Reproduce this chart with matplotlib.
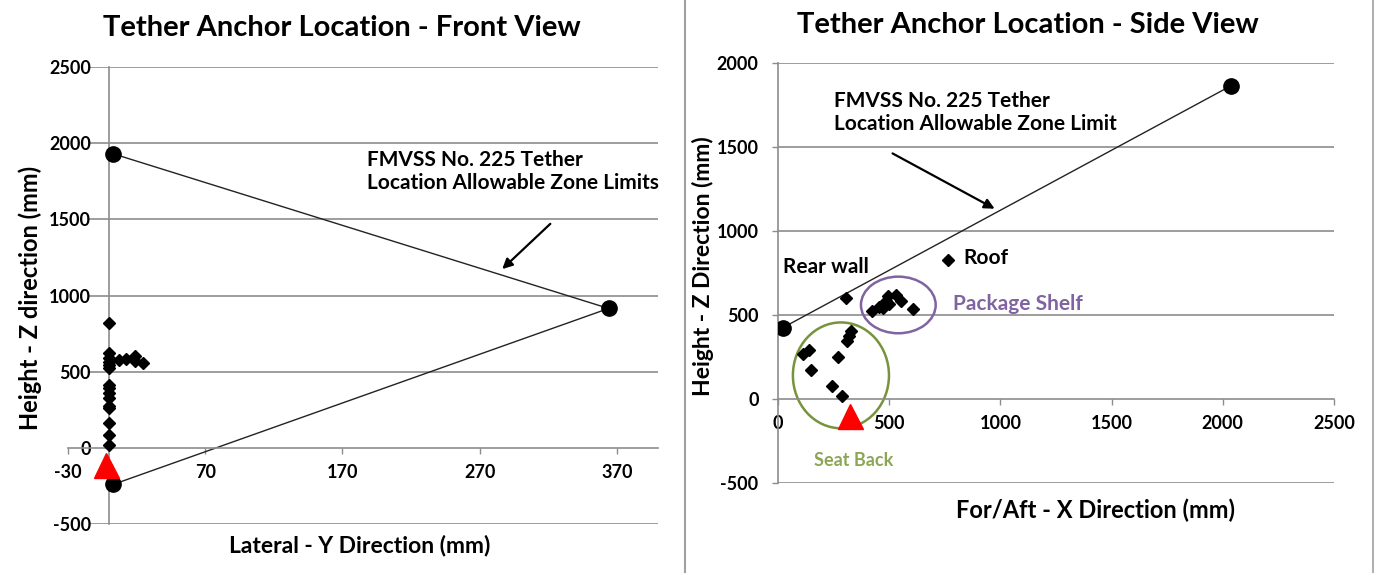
import matplotlib
matplotlib.use("Agg")
import matplotlib.pyplot as plt
from matplotlib.patches import Ellipse
from matplotlib.lines import Line2D

plt.rcParams['font.family'] = ['Lato', 'DejaVu Sans']

# ---------------- Front view data ----------------
front_zone_y = [3, 364, 3]          # lateral (mm)
front_zone_z = [1930, 915, -240]    # height (mm)
front_anchor_y = [0, 0, 0, 0, 0, 0, 0, 0, 0, 0, 0, 0, 0, 0, 0,
                  7, 12, 19, 19, 25]
front_anchor_z = [822, 625, 592, 566, 546, 526, 414, 395, 362, 329, 276, 263, 164, 86, 20,
                  575, 583, 600, 570, 557]
front_ref_y = [-2]
front_ref_z = [-114]
front_xticks = [-30, 70, 170, 270, 370]
front_yticks = [-500, 0, 500, 1000, 1500, 2000, 2500]

# ---------------- Side view data ----------------
side_zone_x = [22, 2036]
side_zone_z = [423, 1862]
side_anchor_x = [305,                                              # rear wall
                 422, 455, 470, 485, 493, 530, 553, 605, 473, 500,  # package shelf
                 764,                                              # roof
                 327, 317, 312, 140, 113, 270, 147, 245, 290]      # seat back
side_anchor_z = [600,
                 524, 544, 560, 583, 613, 619, 583, 532, 540, 565,
                 824,
                 405, 375, 345, 290, 268, 250, 171, 77, 18]
side_ref_x = [322]
side_ref_z = [-100]
side_xticks = [0, 500, 1000, 1500, 2000, 2500]
side_yticks = [-500, 0, 500, 1000, 1500, 2000]

W, H = 1374, 573
fig = plt.figure(figsize=(W / 100, H / 100), dpi=100)

GRID = '#8c8c8c'
tickfont = dict(fontsize=13, fontweight='bold')
ANN = 15


def px_axes(x0, y0, x1, y1):
    return fig.add_axes([x0 / W, 1 - y1 / H, (x1 - x0) / W, (y1 - y0) / H])


# ================= Front view =================
ax1 = px_axes(68, 67, 658, 524)
ax1.set_xlim(-30, 400)
ax1.set_ylim(-500, 2500)
for s in ['top', 'right']:
    ax1.spines[s].set_visible(False)
ax1.spines['left'].set_position(('data', 0))
ax1.spines['bottom'].set_position(('data', 0))
for s in ['left', 'bottom']:
    ax1.spines[s].set_color(GRID)
    ax1.spines[s].set_linewidth(1.2)
ax1.set_xticks(front_xticks)
ax1.set_yticks(front_yticks)
ax1.set_xticklabels([str(v) for v in front_xticks], **tickfont)
ax1.set_yticklabels([str(v) for v in front_yticks], **tickfont)
ax1.tick_params(axis='x', direction='out', length=4.5, width=1, color=GRID, pad=7.5)
ax1.tick_params(axis='y', length=0, pad=13)
for v in front_yticks:
    if v != 0:
        ax1.axhline(v, xmin=22 / 590, xmax=1, color=GRID, lw=1.2, zorder=0)

ax1.plot(front_zone_y, front_zone_z, color='#222222', lw=1.0, zorder=2)
ax1.plot(front_zone_y, front_zone_z, 'o', color='black', ms=11, ls='none', zorder=3)
ax1.plot(front_anchor_y, front_anchor_z, 'D', color='black', ms=6, ls='none', zorder=3)
ax1.plot(front_ref_y, front_ref_z, '^', color='#ff0000', ms=18, ls='none', zorder=4)

ax1.text(188, 1955, 'FMVSS No. 225 Tether\nLocation Allowable Zone Limits',
         fontsize=ANN, fontweight='bold', ha='left', va='top', linespacing=1.2)
ax1.annotate('', xy=(285, 1161), xytext=(323, 1483),
             arrowprops=dict(arrowstyle='-|>', color='black', lw=1.6, mutation_scale=15))

# ================= Side view =================
ax2 = px_axes(778, 62.7, 1334, 482.7)
ax2.set_xlim(0, 2500)
ax2.set_ylim(-500, 2000)
for s in ['top', 'right']:
    ax2.spines[s].set_visible(False)
ax2.spines['bottom'].set_position(('data', 0))
for s in ['left', 'bottom']:
    ax2.spines[s].set_color(GRID)
    ax2.spines[s].set_linewidth(1.2)
ax2.set_xticks(side_xticks)
ax2.set_yticks(side_yticks)
ax2.set_xticklabels([str(v) for v in side_xticks], **tickfont)
ax2.set_yticklabels([str(v) for v in side_yticks], **tickfont)
ax2.tick_params(axis='x', direction='out', length=4.5, width=1, color=GRID, pad=7.5)
ax2.tick_params(axis='y', direction='out', length=4, width=1, color=GRID, pad=10)
for v in side_yticks:
    if v != 0:
        ax2.axhline(v, color=GRID, lw=1.2, zorder=0)

ax2.plot(side_zone_x, side_zone_z, color='#222222', lw=1.0, zorder=2)
ax2.plot(side_zone_x, side_zone_z, 'o', color='black', ms=11, ls='none', zorder=3)
ax2.plot(side_anchor_x, side_anchor_z, 'D', color='black', ms=6, ls='none', zorder=3)
ax2.plot(side_ref_x, side_ref_z, '^', color='#ff0000', ms=18, ls='none', zorder=4)

ax2.add_patch(Ellipse((283, 139), 432, 630, fill=False, edgecolor='#77933C', lw=1.8, zorder=2))
ax2.add_patch(Ellipse((541, 558), 336, 337, fill=False, edgecolor='#8064A2', lw=1.8, zorder=2))

ax2.text(252, 1831, 'FMVSS No. 225 Tether\nLocation Allowable Zone Limit',
         fontsize=ANN, fontweight='bold', ha='left', va='top', linespacing=1.2)
ax2.annotate('', xy=(985, 1123), xytext=(504, 1468),
             arrowprops=dict(arrowstyle='-|>', color='black', lw=1.6, mutation_scale=15))
ax2.text(22, 784, 'Rear wall', fontsize=ANN, fontweight='bold', ha='left', va='center')
ax2.text(832, 836, 'Roof', fontsize=ANN, fontweight='bold', ha='left', va='center')
ax2.text(787, 563, 'Package Shelf', fontsize=ANN, fontweight='bold', ha='left', va='center',
         color='#8064A2')
ax2.text(162, -365, 'Seat Back', fontsize=13, fontweight='bold', ha='left', va='center',
         color='#8DA655')

# ================= Titles / labels =================
fig.text(342 / W, 1 - 28 / H, 'Tether Anchor Location - Front View', fontsize=21,
         fontweight='bold', ha='center', va='center')
fig.text(1028 / W, 1 - 25 / H, 'Tether Anchor Location - Side View', fontsize=21,
         fontweight='bold', ha='center', va='center')
fig.text(30 / W, 1 - 298 / H, 'Height - Z direction (mm)', fontsize=17, fontweight='bold',
         rotation=90, ha='center', va='center')
fig.text(703 / W, 1 - 266 / H, 'Height - Z Direction (mm)', fontsize=16.5, fontweight='bold',
         rotation=90, ha='center', va='center')
fig.text(360 / W, 1 - 545 / H, 'Lateral - Y Direction (mm)', fontsize=16.5, fontweight='bold',
         ha='center', va='center')
fig.text(1095 / W, 1 - 510 / H, 'For/Aft - X Direction (mm)', fontsize=17, fontweight='bold',
         ha='center', va='center')

# separators
fig.add_artist(Line2D([685 / W, 685 / W], [0, 1], color='#a0a0a0', lw=1.5))
fig.add_artist(Line2D([1372.5 / W, 1372.5 / W], [0, 1], color='#a0a0a0', lw=1.2))

fig.savefig('out.png', dpi=100)
